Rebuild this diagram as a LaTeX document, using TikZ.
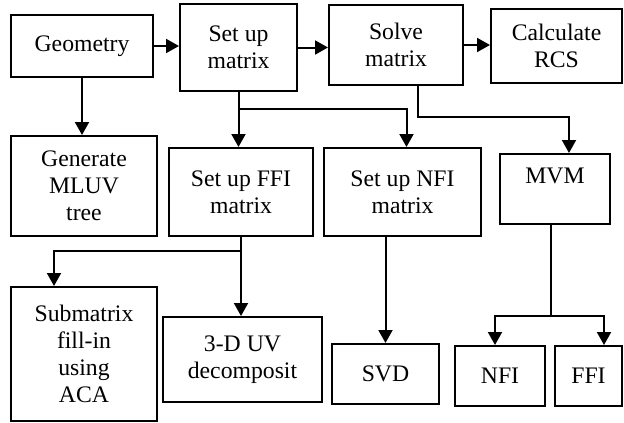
\documentclass[tikz,border=0pt]{standalone}
\usepackage{fontspec}
\setmainfont{Liberation Serif}
\usetikzlibrary{arrows.meta}
\begin{document}
\begin{tikzpicture}[x=1pt,y=-1pt,
  box/.style={draw, line width=2pt, rectangle, align=center, inner sep=0pt,
    font=\fontsize{23.7}{27}\selectfont},
  arr/.style={line width=2pt, -{Triangle[length=13pt,width=14pt]}},
  ln/.style={line width=2pt}]
\useasboundingbox (0,0) rectangle (624,423);
\node[box, minimum width=142pt, minimum height=62pt] (geo) at (82,46) {Geometry};
\node[box, minimum width=117pt, minimum height=87pt] (setup) at (238.5,47.5) {Set up\\matrix};
\node[box, minimum width=134pt, minimum height=80pt] (solve) at (396,45) {Solve\\matrix};
\node[box, minimum width=131pt, minimum height=74pt] (rcs) at (556.5,46) {Calculate\\RCS};
\node[box, minimum width=146pt, minimum height=100pt] (mluv) at (84,186) {Generate\\MLUV\\tree};
\node[box, minimum width=144pt, minimum height=88pt] (ffi) at (241,192) {Set up FFI\\matrix};
\node[box, minimum width=157pt, minimum height=88pt] (nfi) at (402.5,192) {Set up NFI\\matrix};
\node[box, minimum width=110pt, minimum height=70pt] (mvm) at (555,189) {MVM\\\mbox{}};
\node[box, minimum width=146pt, minimum height=134pt] (sub) at (84,354) {Submatrix\\fill-in\\using\\ACA};
\node[box, minimum width=159pt, minimum height=85pt] (uv) at (242.5,359.5) {3-D UV\\decomposit};
\node[box, minimum width=107pt, minimum height=60pt] (svd) at (385.5,374) {SVD};
\node[box, minimum width=90pt, minimum height=60pt] (nfib) at (500,376) {NFI};
\node[box, minimum width=67pt, minimum height=60pt] (ffib) at (588.5,376) {FFI};
% top row arrows
\draw[arr] (geo.east) -- (geo.east -| setup.west);
\draw[arr] (setup.east) -- (setup.east -| solve.west);
\draw[arr] (solve.east) -- (solve.east -| rcs.west);
\draw[arr] (geo.south) -- (geo.south |- mluv.north);
% set up matrix branches
\coordinate (b1) at (238.5,109);
\draw[arr] (setup.south) -- (setup.south |- ffi.north);
\draw[arr] (b1) -| ([xshift=4pt]nfi.north);
% solve to MVM
\coordinate (b2) at (418,116.7);
\draw[arr] ([xshift=22pt]solve.south) -- (b2) -| ([xshift=14pt]mvm.north);
% FFI matrix branches
\coordinate (b3) at (241,250.7);
\draw[arr] (ffi.south) -- (ffi.south |- uv.north);
\draw[arr] (b3) -| ([xshift=-30pt]sub.north);
% NFI to SVD
\draw[arr] (svd.north |- nfi.south) -- (svd.north);
% MVM branches
\coordinate (b4) at (551,316);
\draw[ln] ([xshift=-4pt]mvm.south) -- (b4);
\draw[arr] (b4) -| ([xshift=-5pt]nfib.north);
\draw[arr] (b4) -| ([xshift=15.5pt]ffib.north);
\end{tikzpicture}
\end{document}
